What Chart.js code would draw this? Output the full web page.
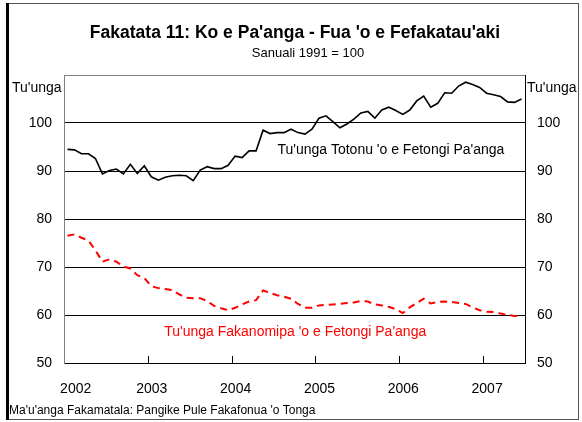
<!DOCTYPE html>
<html>
<head>
<meta charset="utf-8">
<script src="https://cdn.jsdelivr.net/npm/chart.js@4.4.0/dist/chart.umd.min.js"></script>
<style>
    body { margin: 0; background: #fff; }
    #wrap { width: 582px; height: 422px; }
</style>
</head>
<body>
<div id="wrap"><canvas id="chart" width="582" height="422"></canvas></div>
<script>
// Data (monthly, Jan 2002 - Jun 2007)
const years = ['2002', '2003', '2004', '2005', '2006', '2007'];

const realIndex = [
    94.5, 94.4, 93.6, 93.6, 92.6, 89.4, 90.1, 90.4, 89.4, 91.4, 89.5, 91.1,
    88.8, 88.1, 88.7, 89.0, 89.1, 89.0, 88.0, 90.2, 90.9, 90.5, 90.5, 91.2,
    93.1, 92.8, 94.2, 94.2, 98.5, 97.8, 98.0, 98.0, 98.7, 98.0, 97.7, 98.7,
    101.0, 101.5, 100.3, 99.0, 99.8, 100.8, 102.1, 102.4, 101.0, 102.7, 103.3, 102.6,
    101.8, 102.7, 104.6, 105.6, 103.3, 104.1, 106.3, 106.2, 107.7, 108.5, 108.0, 107.4,
    106.2, 105.9, 105.5, 104.4, 104.3, 105.0
];

const nominalIndex = [
    76.5, 76.8, 76.1, 75.5, 73.5, 71.1, 71.6, 71.1, 70.1, 69.7, 68.3, 67.7,
    66.0, 65.6, 65.4, 65.2, 64.3, 63.6, 63.5, 63.5, 62.9, 61.9, 61.4, 61.0,
    61.5, 62.2, 62.8, 63.1, 65.1, 64.6, 64.1, 63.8, 63.4, 62.3, 61.5, 61.5,
    62.0, 62.1, 62.2, 62.3, 62.5, 62.6, 62.9, 62.8, 62.2, 62.0, 61.7, 61.2,
    60.4, 61.6, 62.5, 63.4, 62.4, 62.7, 62.8, 62.7, 62.5, 62.3, 61.6, 61.0,
    60.7, 60.6, 60.3, 60.0, 59.8, 59.8
];

const yTicks = [50, 60, 70, 80, 90, 100];

const FONT = 'Arial, "Liberation Sans", sans-serif';

// months sit in the middle of their slot, like an Excel category axis
function toPoints(arr) {
    return arr.map((v, i) => ({ x: i + 0.5, y: v }));
}

// Frame, titles and the free text labels
const decorPlugin = {
    id: 'decor',
    beforeDraw(chart) {
        const ctx = chart.ctx;
        ctx.save();
        ctx.fillStyle = '#fff';
        ctx.fillRect(0, 0, chart.width, chart.height);
        ctx.strokeStyle = '#555';
        ctx.lineWidth = 1;
        ctx.strokeRect(8.5, 3.5, 570, 416);
        ctx.fillStyle = '#000';
        ctx.fillRect(6, 3, 3, 417);
        ctx.restore();
    },
    afterDatasetsDraw(chart) {
        const ctx = chart.ctx;
        const x = chart.scales.x;
        const y = chart.scales.y;
        const area = chart.chartArea;
        ctx.save();

        // inner tick marks on the x axis
        ctx.strokeStyle = '#000';
        ctx.lineWidth = 1;
        for (let m = 12; m < realIndex.length; m += 12) {
            const px = Math.round(x.getPixelForValue(m)) + 0.5;
            ctx.beginPath();
            ctx.moveTo(px, area.bottom);
            ctx.lineTo(px, area.bottom - 7);
            ctx.stroke();
        }

        ctx.textBaseline = 'middle';
        ctx.fillStyle = '#000';
        ctx.textAlign = 'center';
        ctx.font = 'bold 17.5px ' + FONT;
        ctx.fillText("Fakatata 11: Ko e Pa'anga - Fua 'o e Fefakatau'aki", 295, 33);
        ctx.font = '13px ' + FONT;
        ctx.fillText('Sanuali 1991 = 100', 308, 53);

        ctx.font = '14px ' + FONT;
        ctx.textAlign = 'left';
        ctx.fillText("Tu'unga", 12, 88);
        ctx.fillText("Tu'unga", 527, 88);

        // series labels placed in data space
        ctx.textAlign = 'center';
        ctx.fillText("Tu'unga Totonu 'o e Fetongi Pa'anga", x.getPixelForValue(46.8), y.getPixelForValue(94.4));
        ctx.fillStyle = '#ff0000';
        ctx.fillText("Tu'unga Fakanomipa 'o e Fetongi Pa'anga", x.getPixelForValue(33.1), y.getPixelForValue(56.5));

        ctx.fillStyle = '#000';
        ctx.textAlign = 'left';
        ctx.font = '12px ' + FONT;
        ctx.fillText("Ma'u'anga Fakamatala: Pangike Pule Fakafonua 'o Tonga", 9, 411);
        ctx.restore();
    }
};

const yAxisBase = {
    type: 'linear',
    min: 50,
    max: 110,
    afterBuildTicks: (scale) => {
        scale.ticks = yTicks.concat([110]).map(v => ({ value: v }));
    },
    ticks: {
        color: '#000',
        padding: 12,
        font: { family: FONT, size: 14 },
        callback: (v) => (v > 100 ? '' : v)
    }
};

new Chart(document.getElementById('chart'), {
    type: 'line',
    data: {
        datasets: [
            {
                label: "Tu'unga Totonu 'o e Fetongi Pa'anga",
                data: toPoints(realIndex),
                borderColor: '#000',
                borderWidth: 1.6,
                pointRadius: 0,
                tension: 0,
                yAxisID: 'y'
            },
            {
                label: "Tu'unga Fakanomipa 'o e Fetongi Pa'anga",
                data: toPoints(nominalIndex),
                borderColor: '#ff0000',
                borderWidth: 2,
                borderDash: [7, 5],
                pointRadius: 0,
                tension: 0,
                yAxisID: 'y'
            }
        ]
    },
    options: {
        responsive: false,
        animation: false,
        devicePixelRatio: 1,
        layout: { padding: { top: 75, left: 0, right: 0, bottom: 0 } },
        plugins: {
            legend: { display: false },
            tooltip: { enabled: false }
        },
        scales: {
            x: {
                type: 'linear',
                min: 0,
                max: realIndex.length,
                // one label per January; the first one is nudged in off the axis edge
                afterBuildTicks: (scale) => {
                    scale.ticks = years.map((yr, i) => ({ value: i === 0 ? 1.1 : i * 12 }));
                },
                afterFit: (scale) => { scale.height = 59; },
                grid: { display: false },
                border: { display: true, color: '#000', width: 1 },
                ticks: {
                    color: '#000',
                    padding: 10,
                    labelOffset: 4,
                    maxRotation: 0,
                    autoSkip: false,
                    font: { family: FONT, size: 14 },
                    callback: (v) => years[Math.round(v / 12)]
                }
            },
            y: Object.assign({}, yAxisBase, {
                position: 'left',
                afterFit: (scale) => { scale.width = 64; },
                grid: {
                    drawTicks: false,
                    lineWidth: 1,
                    color: (c) => (c.tick && c.tick.value === 110 ? '#808080' : '#000')
                },
                border: { display: true, color: '#808080', width: 1 }
            }),
            y2: Object.assign({}, yAxisBase, {
                position: 'right',
                afterFit: (scale) => { scale.width = 57; },
                grid: { display: false, drawTicks: false },
                border: { display: true, color: '#000', width: 1 }
            })
        }
    },
    plugins: [decorPlugin]
});
</script>
</body>
</html>
